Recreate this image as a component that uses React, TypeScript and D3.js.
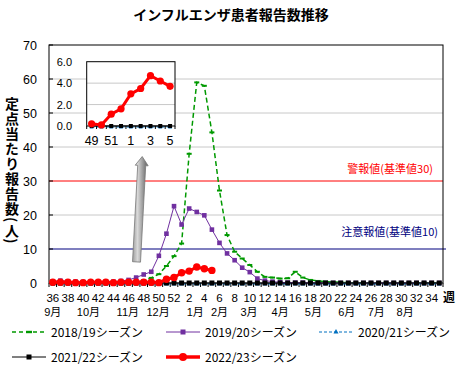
import React from "react";
import * as d3 from "d3";

const title = "インフルエンザ患者報告数推移";
const yTitle = "定点当たり報告数(人)";

const weeks = [
  36, 37, 38, 39, 40, 41, 42, 43, 44, 45, 46, 47, 48, 49, 50, 51, 52,
  1, 2, 3, 4, 5, 6, 7, 8, 9, 10, 11, 12, 13, 14, 15, 16, 17, 18, 19, 20,
  21, 22, 23, 24, 25, 26, 27, 28, 29, 30, 31, 32, 33, 34, 35,
];

const yTicks = [0, 10, 20, 30, 40, 50, 60, 70];
const gridValues = [20, 40, 50, 60];
const insetYTicks = [0, 2, 4, 6];
const insetGrid = [2, 4];

const monthLabels = ["9月", "10月", "11月", "12月", "1月", "2月", "3月", "4月", "5月", "6月", "7月", "8月"];
// anchor position of each month label on the week axis (category index)
const monthAnchor = [0, 4.7, 9.9, 13.9, 18.8, 22, 25.9, 30, 34.4, 38.8, 42.7, 46.5];

const s1819 = [
  0.1, 0.1, 0.1, 0.1, 0.1, 0.1, 0.1, 0.2, 0.2, 0.2, 0.3, 0.4, 0.8, 1.5, 2.6, 5.0, 7.9,
  11.6, 38, 59, 58, 44.3, 27.2, 14.1, 9.2, 7.2, 5.3, 3.3, 1.8, 1.6, 1.3, 1.4, 3.3, 1.6, 0.9, 0.6, 0.4,
  0.3, 0.2, 0.1, 0.1, 0.1, 0.1, 0.1, 0.1, 0.1, 0.1, 0.1, 0.1, 0.1, 0.1, 0.1,
];
const s1920 = [
  0.5, 0.7, 0.5, 0.4, 0.3, 0.3, 0.3, 0.4, 0.4, 0.6, 0.9, 1.6, 2.5, 3.3, 8.0, 14.5, 22.6,
  17.2, 21.9, 20.9, 19.9, 15.7, 11.8, 8.7, 6.7, 4.5, 3.2, 1.3, 0.7, 0.4, 0.2, 0.1, 0.1, 0.1, 0, 0, 0,
  0, 0, 0, 0, 0, 0, 0, 0, 0, 0, 0, 0, 0, 0, 0,
];
const s2021 = weeks.map(() => 0);
const s2122 = weeks.map(() => 0);
const s2223: (number | null)[] = [
  0.2, 0.2, 0.2, 0.1, 0.1, 0.2, 0.2, 0.2, 0.1, 0.2, 0.2, 0.2, 0.2, 0.2, 0.1, 1.1, 1.6,
  3.0, 3.5, 4.7, 4.2, 3.7, null, null, null, null, null, null, null, null, null, null, null, null, null, null, null,
  null, null, null, null, null, null, null, null, null, null, null, null, null, null, null,
];

const insetStart = 13; // week 49
const insetEnd = 21; // week 5

const seriesNames = ["2018/19シーズン", "2019/20シーズン", "2020/21シーズン", "2021/22シーズン", "2022/23シーズン"];

const alertValue = 30;
const alertLabel = "警報値(基準値30)";
const cautionValue = 10;
const cautionLabel = "注意報値(基準値10)";

// arrow annotation in data units (category index, value)
const arrowFrom = [11.05, 6.2];
const arrowTo = [11.8, 37.2];

const FONT = "'Noto Sans CJK JP', 'Noto Sans', sans-serif";
const AXFONT = "'Liberation Sans', 'Noto Sans CJK JP', sans-serif";

export default function App() {
  const W = 462, H = 371;
  const L = 49, R = 443, T = 45, B = 283;
  const n = weeks.length;
  const xs = d3.scaleLinear().domain([0, n]).range([L, R]);
  const x = (i: number) => xs(i + 0.5);
  const y = d3.scaleLinear().domain([0, 70]).range([B, T]);

  const mkLine = (sx: (i: number) => number, sy: d3.ScaleLinear<number, number>) =>
    d3.line<number | null>()
      .defined((d) => d !== null)
      .x((_, i) => sx(i))
      .y((d) => sy(d as number));

  const mainLine = mkLine(x, y);

  // inset
  const iL = 86.7, iR = 175, iT = 61.7, iB = 126;
  const ni = insetEnd - insetStart + 1;
  const xis = d3.scaleLinear().domain([0, ni]).range([iL, iR]);
  const xi = (i: number) => xis(i + 0.5);
  const yi = d3.scaleLinear().domain([0, 6]).range([iB, iT]);
  const insetLine = mkLine(xi, yi);
  const sl = (a: (number | null)[]) => a.slice(insetStart, insetEnd + 1);

  // arrow geometry
  const bx = xs(arrowFrom[0] + 0.5), by = y(arrowFrom[1]);
  const tx = xs(arrowTo[0] + 0.5), ty = y(arrowTo[1]);
  const len = Math.hypot(tx - bx, ty - by);
  const dx = (tx - bx) / len, dy = (ty - by) / len;
  const nx = -dy, ny = dx;
  const sw = 4, hw = 6.5, hl = 9;
  const hx = tx - dx * hl, hy = ty - dy * hl;
  const arrowPts = [
    [bx + nx * sw, by + ny * sw],
    [hx + nx * sw, hy + ny * sw],
    [hx + nx * hw, hy + ny * hw],
    [tx, ty],
    [hx - nx * hw, hy - ny * hw],
    [hx - nx * sw, hy - ny * sw],
    [bx - nx * sw, by - ny * sw],
  ].map((p) => p.join(",")).join(" ");

  const tri = (cx: number, cy: number, s: number) =>
    `M${cx},${cy - s} L${cx + s},${cy + s * 0.8} L${cx - s},${cy + s * 0.8} Z`;

  const legendRows = [
    { x: 12, y: 332, i: 0 },
    { x: 166, y: 332, i: 1 },
    { x: 319, y: 332, i: 2 },
    { x: 12, y: 357, i: 3 },
    { x: 166, y: 357, i: 4 },
  ];

  const legendSample = (i: number, x0: number, yy: number) => {
    const x1 = x0 + 34, xm = (x0 + x1) / 2;
    switch (i) {
      case 0:
        return (
          <g>
            <line x1={x0} x2={x1} y1={yy} y2={yy} stroke="#009900" strokeWidth={1.5} strokeDasharray="4,3" />
            <rect x={xm - 3} y={yy - 1.2} width={6} height={2.4} fill="#009900" />
          </g>
        );
      case 1:
        return (
          <g>
            <line x1={x0} x2={x1} y1={yy} y2={yy} stroke="#7030a0" strokeWidth={1} />
            <rect x={xm - 2.5} y={yy - 2.5} width={5} height={5} fill="#7030a0" />
          </g>
        );
      case 2:
        return (
          <g>
            <line x1={x0} x2={x1} y1={yy} y2={yy} stroke="#0070c0" strokeWidth={1} strokeDasharray="3,2" />
            <path d={tri(xm, yy - 0.5, 2.5)} fill="#0070c0" />
          </g>
        );
      case 3:
        return (
          <g>
            <line x1={x0} x2={x1} y1={yy} y2={yy} stroke="#000" strokeWidth={1} />
            <rect x={xm - 2.5} y={yy - 2.5} width={5} height={5} fill="#000" />
          </g>
        );
      default:
        return (
          <g>
            <line x1={x0} x2={x1} y1={yy} y2={yy} stroke="#ff0000" strokeWidth={3.5} />
            <circle cx={xm} cy={yy} r={4} fill="#ff0000" />
          </g>
        );
    }
  };

  return (
    <svg width={W} height={H} style={{ position: "absolute", left: 0, top: 0, background: "#fff" }} fontFamily={FONT}>
      <defs>
        <linearGradient id="arrowGrad" gradientUnits="userSpaceOnUse" x1={bx - 7} y1={0} x2={bx + 9} y2={0}>
          <stop offset="0" stopColor="#7a7a7a" />
          <stop offset="0.5" stopColor="#d8d8d8" />
          <stop offset="1" stopColor="#7a7a7a" />
        </linearGradient>
      </defs>
      <rect x={0} y={0} width={W} height={H} fill="#fff" />

      {/* title */}
      <text x={231} y={20} textAnchor="middle" fontSize={14} fontWeight="bold">{title}</text>

      {/* grid lines */}
      {gridValues.map((v) => (
        <line key={v} x1={L} x2={R} y1={y(v)} y2={y(v)} stroke="#c8c8c8" strokeWidth={1} />
      ))}

      {/* alert lines */}
      <line x1={L} x2={R} y1={y(alertValue)} y2={y(alertValue)} stroke="#ff0000" strokeWidth={1} />
      <text x={433} y={y(alertValue) - 8} textAnchor="end" fontSize={11} fill="#ff0000">{alertLabel}</text>
      <line x1={L} x2={R + 3} y1={y(cautionValue)} y2={y(cautionValue)} stroke="#000080" strokeWidth={1.2} />
      <text x={438} y={y(cautionValue) - 13} textAnchor="end" fontSize={11} fill="#000080">{cautionLabel}</text>

      {/* plot frame */}
      <rect x={L} y={T} width={R - L} height={B - T} fill="none" stroke="#000" strokeWidth={1} />
      {yTicks.map((v) => (
        <g key={v}>
          <line x1={L} x2={L + 4} y1={y(v)} y2={y(v)} stroke="#000" />
          <text x={37} y={y(v) + 4.5} textAnchor="end" fontSize={12.5} fontFamily={AXFONT}>{v}</text>
        </g>
      ))}
      {d3.range(n + 1).map((i) => (
        <line key={i} x1={xs(i)} x2={xs(i)} y1={B} y2={B + 4} stroke="#000" />
      ))}

      {/* week labels */}
      {weeks.map((w, i) =>
        i % 2 === 0 && i <= 50 ? (
          <text key={i} x={x(i)} y={302} textAnchor="middle" fontSize={11.5} fontFamily={AXFONT}>{w}</text>
        ) : null
      )}
      <text x={449} y={302} textAnchor="middle" fontSize={12} fontWeight="bold">週</text>
      {monthLabels.map((m, k) => (
        <text key={m} x={x(monthAnchor[k])} y={315.5} textAnchor="middle" fontSize={11} fontFamily={AXFONT}>{m}</text>
      ))}

      {/* y title (vertical) */}
      <text x={12} y={97} fontSize={14} fontWeight="bold"
        style={{ writingMode: "vertical-rl" as any }} letterSpacing={1}>{yTitle}</text>

      {/* 2018/19 */}
      <path d={mainLine(s1819) || ""} fill="none" stroke="#009900" strokeWidth={1.5} strokeDasharray="5,3" />
      {s1819.map((v, i) => (
        <rect key={i} x={x(i) - 2.5} y={y(v) - 1} width={5} height={2} fill="#009900" />
      ))}
      {/* 2019/20 */}
      <path d={mainLine(s1920) || ""} fill="none" stroke="#7030a0" strokeWidth={1} />
      {s1920.map((v, i) => (
        <rect key={i} x={x(i) - 2.3} y={y(v) - 2.3} width={4.6} height={4.6} fill="#7030a0" />
      ))}
      {/* 2020/21 */}
      <path d={mainLine(s2021) || ""} fill="none" stroke="#0070c0" strokeWidth={1} strokeDasharray="3,2" transform="translate(0,1)" />
      {s2021.map((v, i) => (
        <path key={i} d={tri(x(i), y(v) + 1, 2)} fill="#0070c0" />
      ))}
      {/* 2021/22 */}
      <path d={mainLine(s2122) || ""} fill="none" stroke="#000" strokeWidth={1} />
      {s2122.map((v, i) => (
        <rect key={i} x={x(i) - 2.5} y={y(v) - 2.5} width={5} height={5} fill="#000" />
      ))}
      {/* 2022/23 */}
      <path d={mainLine(s2223) || ""} fill="none" stroke="#ff0000" strokeWidth={3} />
      {s2223.map((v, i) =>
        v === null ? null : <circle key={i} cx={x(i)} cy={y(v)} r={3.7} fill="#ff0000" />
      )}

      {/* arrow */}
      <polygon points={arrowPts} fill="url(#arrowGrad)" stroke="#777" strokeWidth={0.8} />

      {/* inset */}
      <rect x={iL} y={iT} width={iR - iL} height={iB - iT} fill="#fff" />
      {insetGrid.map((v) => (
        <line key={v} x1={iL} x2={iR} y1={yi(v)} y2={yi(v)} stroke="#c8c8c8" />
      ))}
      <rect x={iL} y={iT} width={iR - iL} height={iB - iT} fill="none" stroke="#000" />
      {insetYTicks.map((v) => (
        <text key={v} x={72} y={yi(v) + 4} textAnchor="end" fontSize={11} fontFamily={AXFONT}>{v.toFixed(1)}</text>
      ))}
      {d3.range(ni + 1).map((i) => (
        <line key={i} x1={xis(i)} x2={xis(i)} y1={iB} y2={iB + 3} stroke="#000" />
      ))}
      {sl(weeks as any).map((w, i) =>
        i % 2 === 0 ? (
          <text key={i} x={xi(i)} y={145} textAnchor="middle" fontSize={12.5} fontFamily={AXFONT}>{w}</text>
        ) : null
      )}
      <path d={insetLine(sl(s2021)) || ""} fill="none" stroke="#0070c0" strokeWidth={1} strokeDasharray="3,2" transform="translate(0,1)" />
      {sl(s2021).map((v, i) => (
        <path key={i} d={tri(xi(i), yi(v as number) + 1, 2)} fill="#0070c0" />
      ))}
      <path d={insetLine(sl(s2122)) || ""} fill="none" stroke="#000" strokeWidth={1} />
      {sl(s2122).map((v, i) => (
        <rect key={i} x={xi(i) - 2} y={yi(v as number) - 2} width={4} height={4} fill="#000" />
      ))}
      <path d={insetLine(sl(s2223)) || ""} fill="none" stroke="#ff0000" strokeWidth={3} />
      {sl(s2223).map((v, i) =>
        v === null ? null : <circle key={i} cx={xi(i)} cy={yi(v)} r={3.6} fill="#ff0000" />
      )}

      {/* legend */}
      {legendRows.map((r) => (
        <g key={r.i}>
          {legendSample(r.i, r.x, r.y)}
          <text x={r.x + 39} y={r.y + 4.5} fontSize={12}>{seriesNames[r.i]}</text>
        </g>
      ))}
    </svg>
  );
}
